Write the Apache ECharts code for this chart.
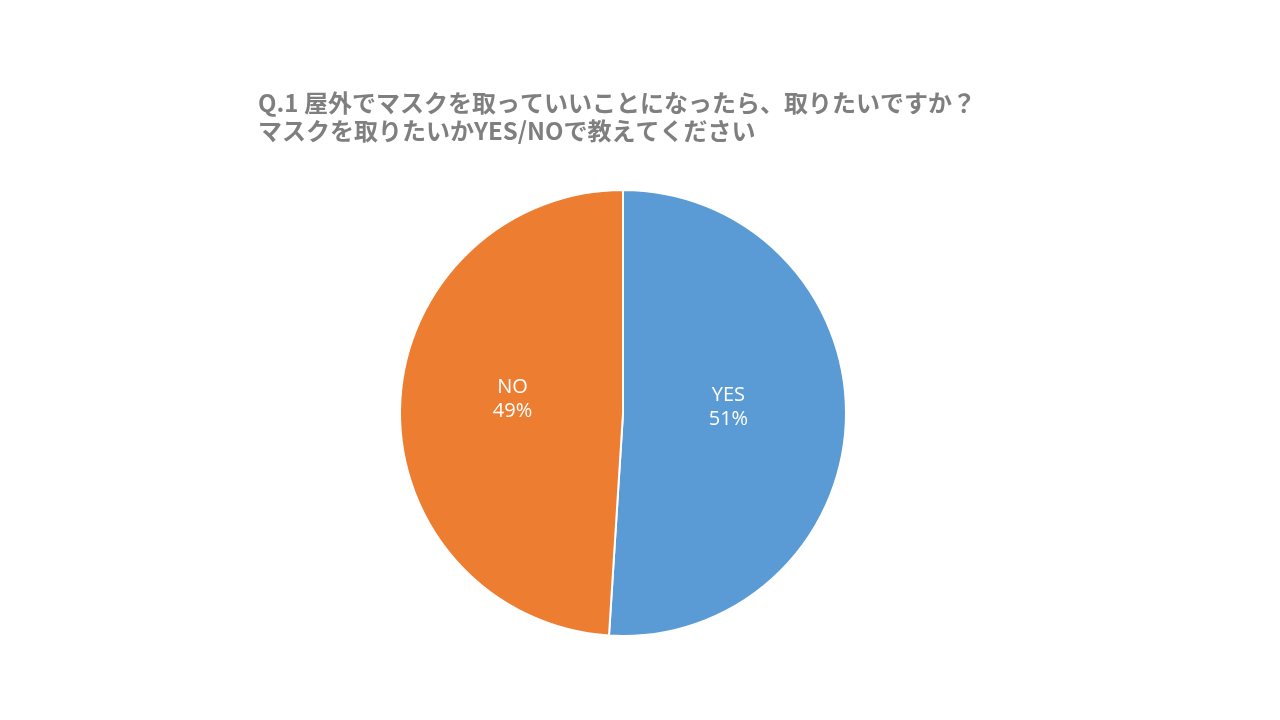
<!DOCTYPE html>
<html>
<head>
<meta charset="utf-8">
<script src="https://cdn.jsdelivr.net/npm/echarts@6/dist/echarts.min.js"></script>
<style>
  html, body { margin: 0; padding: 0; background: #fff; }
  #main { width: 1280px; height: 720px; }
</style>
</head>
<body>
<div id="main"></div>
<script>
// answers and their shares (%)
var categories = ['YES', 'NO'];
var shares = [51, 49];
var colors = ['#5B9BD5', '#ED7D31'];
var labelNudge = [[-9, -9], [4, -10]];
var titleLines = [
  'Q.1 屋外でマスクを取っていいことになったら、取りたいですか？',
  'マスクを取りたいかYES/NOで教えてください'
];

var myChart = echarts.init(document.getElementById('main'));

var pieData = [];
for (var i = 0; i < categories.length; i++) {
  pieData.push({
    name: categories[i],
    value: shares[i],
    itemStyle: { color: colors[i] },
    label: { offset: labelNudge[i] }
  });
}

var option = {
  animation: false,
  title: {
    text: titleLines.join('\n'),
    left: 253,
    top: 84,
    textStyle: {
      fontFamily: '"Noto Sans CJK JP", "Noto Sans", sans-serif',
      fontSize: 24,
      fontWeight: 'bold',
      color: '#7F7F7F',
      lineHeight: 28
    }
  },
  series: [{
    type: 'pie',
    center: [623, 413],
    radius: [0, 223],
    startAngle: 90,
    clockwise: true,
    data: pieData,
    itemStyle: { borderColor: '#fff', borderWidth: 2 },
    label: {
      position: 'inner',
      formatter: function (p) { return p.name + '\n' + p.value + '%'; },
      color: '#fff',
      fontSize: 20,
      lineHeight: 24,
      fontFamily: '"Open Sans", "Noto Sans", sans-serif'
    },
    labelLine: { show: false },
    emphasis: { disabled: true }
  }]
};

myChart.setOption(option);
</script>
</body>
</html>
